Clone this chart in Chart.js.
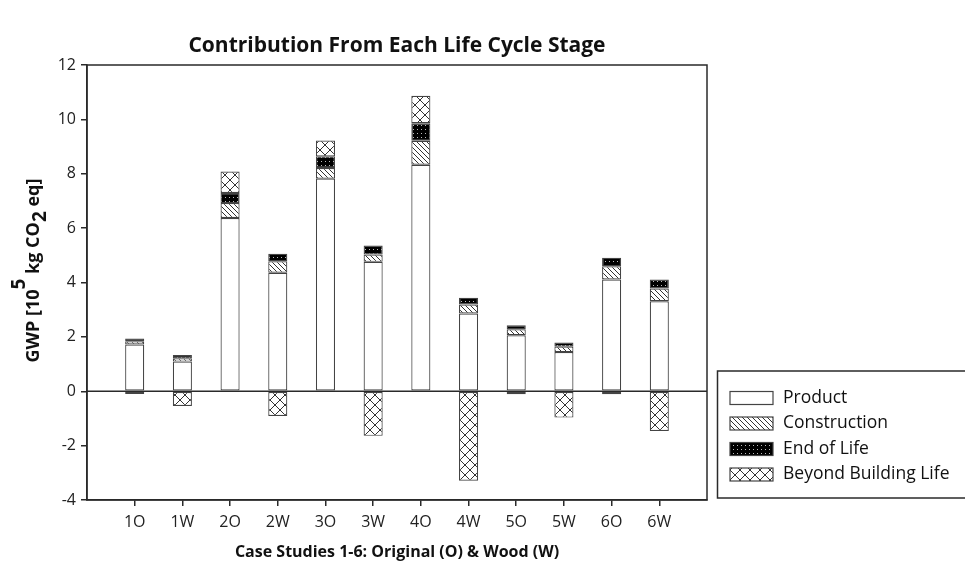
<!DOCTYPE html>
<html><head><meta charset="utf-8">
<script src="https://cdn.jsdelivr.net/npm/chart.js@4.4.0/dist/chart.umd.min.js"></script>
<style>html,body{margin:0;padding:0;background:#fff}#wrap{width:965px;height:566px;position:relative}</style>
</head><body><div id="wrap"><canvas id="c"></canvas></div>
<script>
const categories   = ['1O','1W','2O','2W','3O','3W','4O','4W','5O','5W','6O','6W'];
const product      = [1.72,1.09,6.37,4.36,7.82,4.76,8.33,2.86,2.06,1.44,4.11,3.31];
const construction = [0.12,0.12,0.55,0.42,0.39,0.27,0.88,0.33,0.22,0.20,0.49,0.47];
const endOfLife    = [0.10,0.12,0.37,0.28,0.43,0.33,0.65,0.25,0.15,0.15,0.31,0.33];
const beyondLife   = [-0.10,-0.54,0.79,-0.91,0.58,-1.64,1.01,-3.29,-0.11,-0.97,-0.11,-1.46];
const seriesNames  = ['Product','Construction','End of Life','Beyond Building Life'];
const yTicks       = [-4,-2,0,2,4,6,8,10,12];
const chartTitle   = 'Contribution From Each Life Cycle Stage';
const xTitle       = 'Case Studies 1-6: Original (O) & Wood (W)';

const FONT = "'Open Sans', 'Noto Sans', sans-serif";
const INK = '#2a2a2a';

function makePattern(size, draw) {
  const cv = document.createElement('canvas');
  cv.width = size; cv.height = size;
  const g = cv.getContext('2d');
  draw(g, size);
  return g.createPattern(cv, 'repeat');
}
const fillProduct = '#ffffff';
const fillConstruction = makePattern(5, (g, s) => {
  g.fillStyle = '#fff'; g.fillRect(0, 0, s, s);
  g.strokeStyle = '#333'; g.lineWidth = 1;
  g.beginPath();
  g.moveTo(-1, -1); g.lineTo(s + 1, s + 1);
  g.moveTo(-1, s - 1); g.lineTo(1, s + 1);
  g.moveTo(s - 1, -1); g.lineTo(s + 1, 1);
  g.stroke();
});
const fillEnd = makePattern(4, (g, s) => {
  g.fillStyle = '#000'; g.fillRect(0, 0, s, s);
  g.fillStyle = '#bbb'; g.fillRect(1, 1, 1, 1);
});
const fillBeyond = makePattern(10, (g, s) => {
  g.fillStyle = '#fff'; g.fillRect(0, 0, s, s);
  g.strokeStyle = '#333'; g.lineWidth = 1;
  g.beginPath();
  g.moveTo(0, 0); g.lineTo(s, s);
  g.moveTo(s, 0); g.lineTo(0, s);
  g.stroke();
});
const fills = [fillProduct, fillConstruction, fillEnd, fillBeyond];

const labels = ['', ...categories, ''];
const pad = a => [null, ...a, null];
const seriesData = [product, construction, endOfLife, beyondLife];

const datasets = seriesData.map((d, i) => ({
  label: seriesNames[i],
  data: pad(d),
  backgroundColor: fills[i],
  borderColor: '#444',
  borderWidth: 1.2,
  borderSkipped: false,
  categoryPercentage: 1.0,
  barPercentage: 0.4
}));

const decor = {
  id: 'decor',
  afterDatasetsDraw(chart) {
    const { ctx, chartArea: a, scales } = chart;
    ctx.save();
    const y0 = scales.y.getPixelForValue(0);
    ctx.strokeStyle = INK; ctx.lineWidth = 1.5;
    ctx.beginPath(); ctx.moveTo(a.left, y0); ctx.lineTo(a.right, y0); ctx.stroke();
    ctx.strokeRect(a.left, a.top, a.right - a.left, a.bottom - a.top);
    ctx.restore();
  },
  afterDraw(chart) {
    const { ctx, chartArea: a } = chart;
    ctx.save();
    ctx.fillStyle = '#111';
    ctx.font = `bold 21px ${FONT}`;
    ctx.textAlign = 'center'; ctx.textBaseline = 'middle';
    ctx.fillText(chartTitle, (a.left + a.right) / 2, 46);

    const parts = [
      { t: 'GWP [10', dy: 0, f: 18 },
      { t: '5', dy: -14, f: 19 },
      { t: ' kg CO', dy: 0, f: 18 },
      { t: '2', dy: 7, f: 19 },
      { t: ' eq]', dy: 0, f: 18 }
    ];
    let w = 0;
    parts.forEach(p => { ctx.font = `bold ${p.f}px ${FONT}`; w += ctx.measureText(p.t).width; });
    ctx.translate(34, (a.top + a.bottom) / 2 - 12);
    ctx.rotate(-Math.PI / 2);
    ctx.textAlign = 'left';
    let x = -w / 2;
    parts.forEach(p => {
      ctx.font = `bold ${p.f}px ${FONT}`;
      ctx.fillText(p.t, x, p.dy);
      x += ctx.measureText(p.t).width;
    });
    ctx.restore();

    ctx.save();
    ctx.strokeStyle = INK; ctx.lineWidth = 1.5;
    ctx.strokeRect(717.5, 371, 270, 127);
    ctx.font = `17.5px ${FONT}`;
    ctx.textAlign = 'left'; ctx.textBaseline = 'middle';
    chart.data.datasets.forEach((ds, i) => {
      const cy = 398 + i * 25.5;
      ctx.fillStyle = ds.backgroundColor;
      ctx.fillRect(730, cy - 6.5, 43, 13);
      ctx.strokeStyle = '#444'; ctx.lineWidth = 1.2;
      ctx.strokeRect(730, cy - 6.5, 43, 13);
      ctx.fillStyle = '#111';
      ctx.fillText(ds.label, 783, cy);
    });
    ctx.restore();
  }
};

new Chart(document.getElementById('c'), {
  type: 'bar',
  data: { labels, datasets },
  options: {
    responsive: true,
    maintainAspectRatio: false,
    animation: false,
    layout: { padding: { left: 0, right: 258, top: 65, bottom: 0 } },
    plugins: { legend: { display: false }, title: { display: false }, tooltip: { enabled: false } },
    scales: {
      x: {
        stacked: true,
        offset: false,
        grid: {
          offset: false,
          drawOnChartArea: false, drawTicks: true, tickLength: 6, lineWidth: 1.5,
          tickColor: c => (c.index === 0 || c.index === labels.length - 1) ? 'rgba(0,0,0,0)' : INK
        },
        border: { display: true, color: INK, width: 1.5 },
        ticks: { font: { size: 16, family: FONT }, color: '#222', padding: 7, autoSkip: false, maxRotation: 0 },
        title: { display: true, text: xTitle, font: { size: 16, weight: 'bold', family: FONT }, color: '#111', padding: { top: 0, bottom: 4 } },
        afterFit: s => { s.height = 66; }
      },
      y: {
        stacked: true,
        min: yTicks[0], max: yTicks[yTicks.length - 1],
        afterBuildTicks: s => { s.ticks = yTicks.map(v => ({ value: v })); },
        grid: { drawOnChartArea: false, drawTicks: true, tickLength: 6, lineWidth: 1.5, tickColor: INK },
        border: { display: true, color: INK, width: 1.5 },
        ticks: { font: { size: 16, family: FONT }, color: '#222', padding: 5 },
        afterFit: s => { s.width = 87; }
      }
    }
  },
  plugins: [decor]
});
</script>
</body></html>
